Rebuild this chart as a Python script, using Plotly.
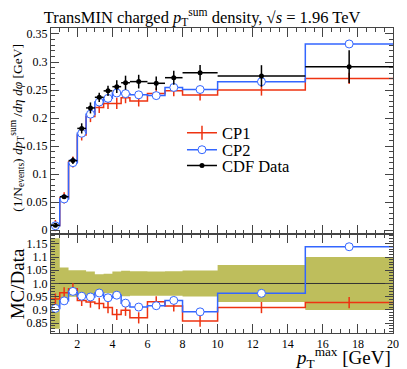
import plotly.graph_objects as go

# ---- data ----
bin_edges = [0.5, 1.0, 1.5, 2.0, 2.5, 3.0, 3.5, 4.0, 4.5, 5.0, 6.0, 7.0, 8.0, 10.0, 15.0, 20.0]
data_vals = [0.0085, 0.0595, 0.124, 0.1815, 0.218, 0.237, 0.2485, 0.256, 0.263, 0.265, 0.262, 0.272, 0.281, 0.275, 0.2917]
data_err = [0.00145, 0.0036, 0.0062, 0.0091, 0.0098, 0.0083, 0.0092, 0.0115, 0.0126, 0.0122, 0.012, 0.0125, 0.0138, 0.0193, 0.0292]
cp1_vals = [0.0080, 0.0574, 0.1215, 0.1699, 0.2027, 0.2190, 0.2259, 0.2260, 0.2364, 0.2306, 0.2439, 0.2489, 0.2411, 0.2500, 0.2707]
cp2_vals = [0.0077, 0.0556, 0.1203, 0.1728, 0.2069, 0.2285, 0.2351, 0.2447, 0.2435, 0.2414, 0.2400, 0.2546, 0.2509, 0.2648, 0.3322]

main_yticks = [0, 0.05, 0.1, 0.15, 0.2, 0.25, 0.3, 0.35]
main_yticklabels = ["0", "0.05", "0.1", "0.15", "0.2", "0.25", "0.3", "0.35"]
ratio_yticks = [0.85, 0.9, 0.95, 1.0, 1.05, 1.1, 1.15]
ratio_yticklabels = ["0.85", "0.9", "0.95", "1.0", "1.05", "1.1", "1.15"]
xticks = [2, 4, 6, 8, 10, 12, 14, 16, 18, 20]

RED = "#EE3311"
BLUE = "#3366FF"
BAND = "rgb(190,190,92)"
FONT = "Liberation Serif"

centers = [(a + b) / 2 for a, b in zip(bin_edges[:-1], bin_edges[1:])]
halfw = [(b - a) / 2 for a, b in zip(bin_edges[:-1], bin_edges[1:])]

def step(vals):
    return list(vals) + [vals[-1]]

cp1_ratio = [m / d for m, d in zip(cp1_vals, data_vals)]
cp2_ratio = [m / d for m, d in zip(cp2_vals, data_vals)]
band_hi = [1 + e / d for e, d in zip(data_err, data_vals)]
band_lo = [1 - e / d for e, d in zip(data_err, data_vals)]

red_marker = dict(symbol="line-ns-open", size=8, color=RED, line=dict(color=RED, width=1.5))
blue_marker = dict(symbol="circle", size=8, color="white", line=dict(color=BLUE, width=1))

fig = go.Figure()

# ---- main panel ----
fig.add_trace(go.Scatter(x=bin_edges, y=step(cp1_vals), mode="lines", line=dict(color=RED, width=1.5, shape="hv"),
                         showlegend=False, hoverinfo="skip", xaxis="x", yaxis="y"))
fig.add_trace(go.Scatter(x=bin_edges, y=step(cp2_vals), mode="lines", line=dict(color=BLUE, width=1.5, shape="hv"),
                         showlegend=False, hoverinfo="skip", xaxis="x", yaxis="y"))
fig.add_trace(go.Scatter(x=centers, y=cp1_vals, mode="markers", name="CP1", marker=red_marker,
                         showlegend=False, xaxis="x", yaxis="y"))
fig.add_trace(go.Scatter(x=centers, y=cp2_vals, mode="markers", name="CP2", marker=blue_marker,
                         showlegend=False, xaxis="x", yaxis="y"))
fig.add_trace(go.Scatter(x=centers, y=data_vals, mode="markers", name="CDF Data",
                         marker=dict(symbol="circle", size=5, color="black"),
                         error_y=dict(type="data", array=data_err, color="black", thickness=1.5, width=0),
                         error_x=dict(type="data", array=halfw, color="black", thickness=1.5, width=0),
                         showlegend=False, xaxis="x", yaxis="y"))

# legend entries (dummy traces, one legend each for exact spacing)
fig.add_trace(go.Scatter(x=[None], y=[None], mode="lines+markers", name="CP1",
                         line=dict(color=RED, width=1.5),
                         marker=dict(symbol="line-ns-open", size=10, color=RED, line=dict(color=RED, width=1.5)),
                         legend="legend", xaxis="x", yaxis="y"))
fig.add_trace(go.Scatter(x=[None], y=[None], mode="lines+markers", name="CP2",
                         line=dict(color=BLUE, width=1.5), marker=blue_marker,
                         legend="legend2", xaxis="x", yaxis="y"))
fig.add_trace(go.Scatter(x=[None], y=[None], mode="lines+markers", name="CDF Data",
                         line=dict(color="black", width=1.5),
                         marker=dict(symbol="circle", size=5, color="black"),
                         legend="legend3", xaxis="x", yaxis="y"))

# ---- ratio panel ----
fig.add_trace(go.Scatter(x=bin_edges, y=step(band_lo), mode="lines", line=dict(width=0, shape="hv"),
                         showlegend=False, hoverinfo="skip", xaxis="x2", yaxis="y2"))
fig.add_trace(go.Scatter(x=bin_edges, y=step(band_hi), mode="lines", line=dict(width=0, shape="hv"),
                         fill="tonexty", fillcolor=BAND, showlegend=False, hoverinfo="skip", xaxis="x2", yaxis="y2"))
fig.add_trace(go.Scatter(x=[bin_edges[0], bin_edges[-1]], y=[1, 1], mode="lines", line=dict(color="#333", width=1),
                         showlegend=False, hoverinfo="skip", xaxis="x2", yaxis="y2"))
fig.add_trace(go.Scatter(x=bin_edges, y=step(cp1_ratio), mode="lines", line=dict(color=RED, width=1.5, shape="hv"),
                         showlegend=False, hoverinfo="skip", xaxis="x2", yaxis="y2"))
fig.add_trace(go.Scatter(x=bin_edges, y=step(cp2_ratio), mode="lines", line=dict(color=BLUE, width=1.5, shape="hv"),
                         showlegend=False, hoverinfo="skip", xaxis="x2", yaxis="y2"))
fig.add_trace(go.Scatter(x=centers, y=cp1_ratio, mode="markers", marker=red_marker,
                         showlegend=False, xaxis="x2", yaxis="y2"))
fig.add_trace(go.Scatter(x=centers, y=cp2_ratio, mode="markers", marker=blue_marker,
                         showlegend=False, xaxis="x2", yaxis="y2"))

split = 0.3246
axcommon = dict(showline=True, linecolor="#444", linewidth=1, mirror="allticks", ticks="inside",
                showgrid=False, zeroline=False, tickcolor="#444", automargin=False,
                tickfont=dict(family=FONT, size=12, color="black"))
legcommon = dict(x=0.383, xanchor="left", yanchor="middle", bgcolor="rgba(0,0,0,0)",
                 font=dict(family=FONT, size=16.5), itemwidth=30)

fig.update_layout(
    template="none",
    width=407, height=369,
    margin=dict(l=43, r=22, t=20, b=44),
    paper_bgcolor="white", plot_bgcolor="white",
    font=dict(family=FONT, color="black"),
    title=dict(text="TransMIN charged <i>p</i><sub>T</sub><sup>sum</sup> density, √<i>s</i> = 1.96 TeV",
               x=0.477, xanchor="center", y=0.975, yanchor="middle", font=dict(family=FONT, size=16.5)),
    xaxis=dict(domain=[0, 1], range=[0.5, 20], anchor="y", tickvals=xticks, showticklabels=False, ticklen=9,
               minor=dict(dtick=0.5, tick0=0, ticklen=4, ticks="inside", tickcolor="#444"), **axcommon),
    yaxis=dict(domain=[split, 1], range=[-0.007, 0.3607], anchor="x", tickvals=main_yticks,
               ticktext=main_yticklabels, ticklen=8,
               minor=dict(dtick=0.01, tick0=0, ticklen=4, ticks="inside", tickcolor="#444"), **axcommon),
    xaxis2=dict(domain=[0, 1], range=[0.5, 20], anchor="y2", tickvals=xticks, ticklen=9,
                minor=dict(dtick=0.5, tick0=0, ticklen=4, ticks="inside", tickcolor="#444"), **axcommon),
    yaxis2=dict(domain=[0, split], range=[0.813, 1.187], anchor="x2", tickvals=ratio_yticks,
                ticktext=ratio_yticklabels, ticklen=8,
                minor=dict(dtick=0.01, tick0=0, ticklen=4, ticks="inside", tickcolor="#444"), **axcommon),
    legend=dict(y=0.656, **legcommon),
    legend2=dict(y=0.600, **legcommon),
    legend3=dict(y=0.548, **legcommon),
    showlegend=True,
)

fig.add_annotation(text="(1/N<sub>events</sub>) <i>dp</i><sub>T</sub><sup>sum</sup> /<i>dη dφ</i> [GeV]",
                   xref="paper", yref="paper", x=-0.097, y=(1 + split) / 2 + 0.01, xanchor="center", yanchor="middle",
                   textangle=-90, showarrow=False, font=dict(family=FONT, size=13.5))
fig.add_annotation(text="MC/Data", xref="paper", yref="paper", x=-0.097, y=split / 2, xanchor="center",
                   yanchor="middle", textangle=-90, showarrow=False, font=dict(family=FONT, size=19))
fig.add_annotation(text="<i>p</i><sub>T</sub><sup>max</sup> [GeV]", xref="paper", yref="paper", x=1.0, y=-0.03,
                   xanchor="right", yanchor="top", showarrow=False, font=dict(family=FONT, size=19))

fig.write_html("out.html")
